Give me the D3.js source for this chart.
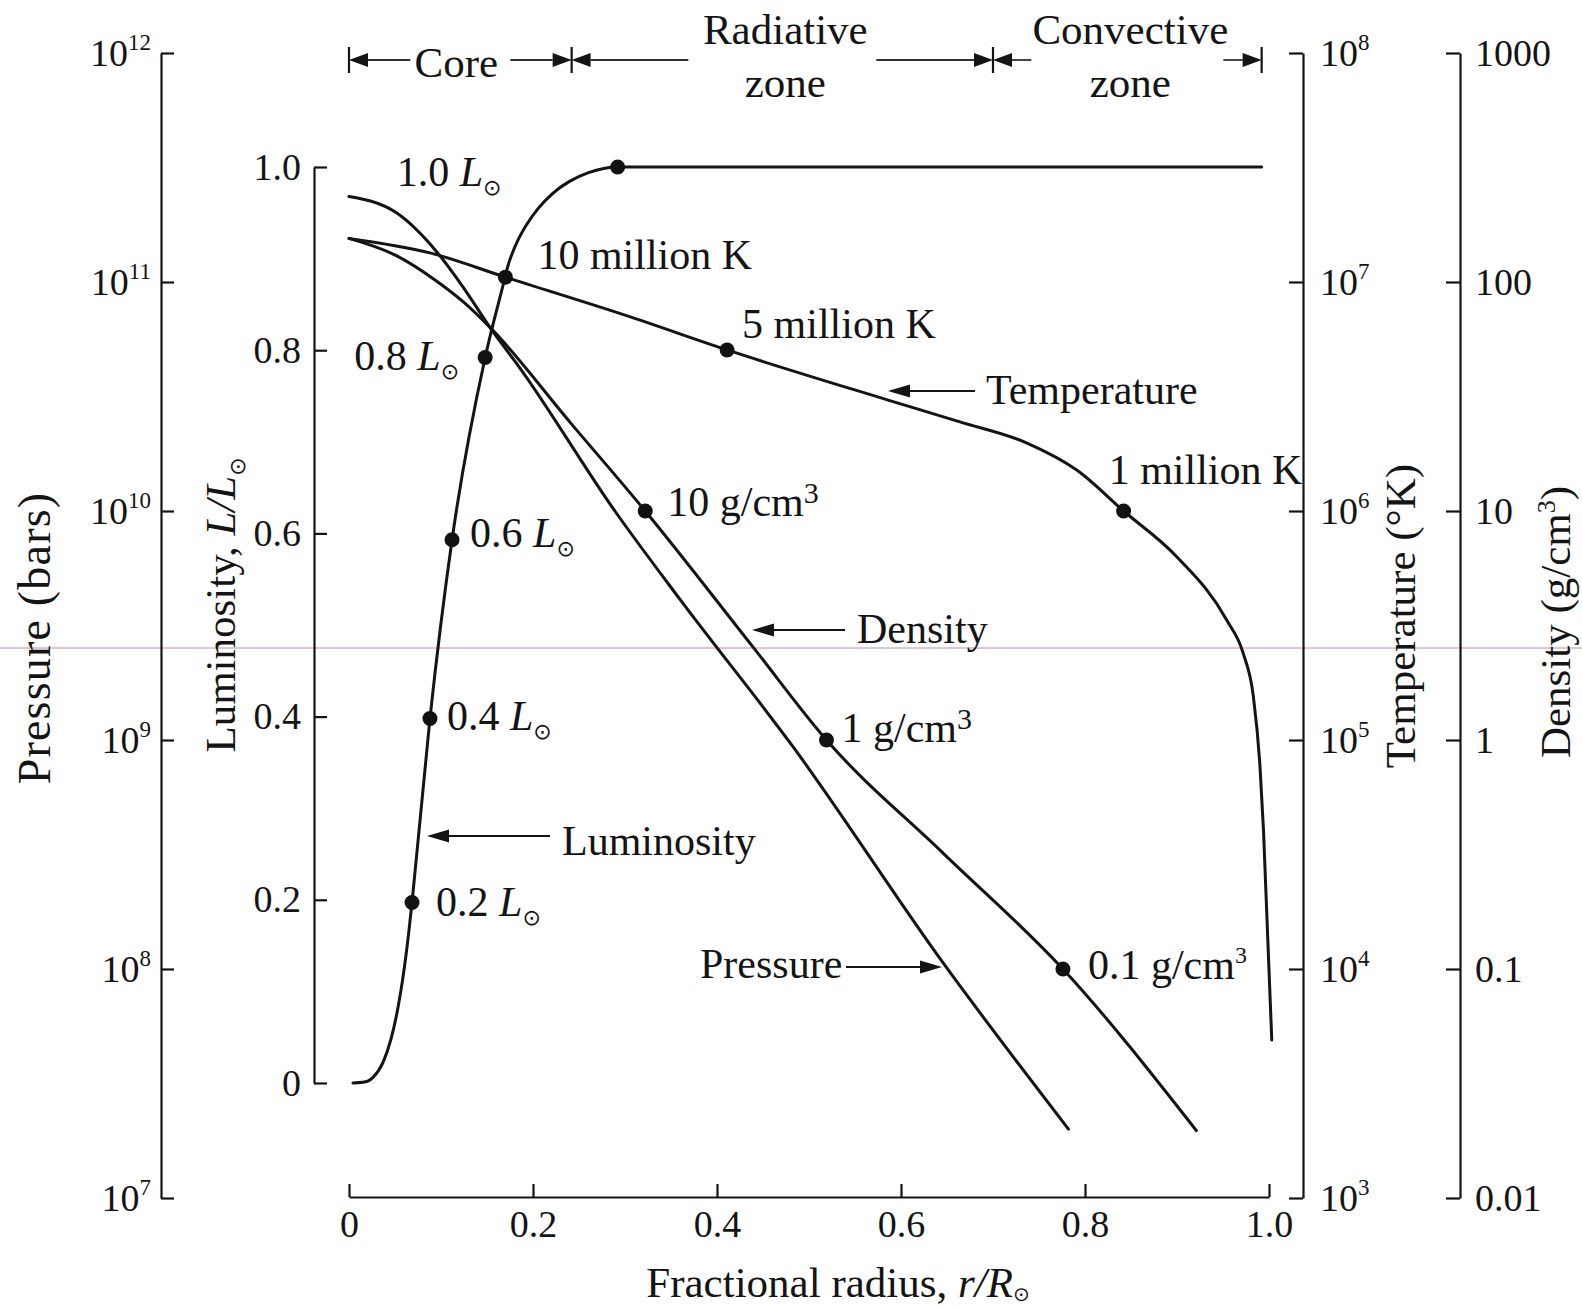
<!DOCTYPE html>
<html>
<head>
<meta charset="utf-8">
<script src="https://cdn.jsdelivr.net/npm/d3@7"></script>
<style>
  body { margin: 0; background: #fff; }
  text { font-family: "Liberation Serif", "Times New Roman", serif; fill: #141414; }
</style>
</head>
<body>
<script>
// ---- data ----
var radiusTicks   = [0, 0.2, 0.4, 0.6, 0.8, 1.0];
var lumTicks      = [0, 0.2, 0.4, 0.6, 0.8, 1.0];
var pressureTicks = [1e7, 1e8, 1e9, 1e10, 1e11, 1e12];   // bars
var tempTicks     = [1e3, 1e4, 1e5, 1e6, 1e7, 1e8];      // K
var densityTicks  = [0.01, 0.1, 1, 10, 100, 1000];       // g/cm3

// [r/R, L/Lsun]
var luminosity = [
  [0.0043, 0], [0.0152, 0.0007], [0.0261, 0.0062], [0.037, 0.0226], [0.0457, 0.0481],
  [0.0533, 0.0827], [0.0587, 0.1156], [0.0641, 0.157], [0.0685, 0.197], [0.088, 0.398],
  [0.112, 0.593], [0.148, 0.792], [0.170, 0.881], [0.1726, 0.8916], [0.1772, 0.9051],
  [0.1839, 0.9207], [0.1933, 0.9375], [0.2057, 0.9548], [0.2215, 0.9713], [0.2392, 0.984],
  [0.2603, 0.9938], [0.292, 1.0], [0.992, 1.0]
];
// [r/R, K]
var temperature = [
  [0, 1.55e7], [0.088, 1.34e7], [0.170, 1.05e7], [0.305, 7.06e6], [0.411, 5.05e6],
  [0.586, 3.05e6], [0.664, 2.45e6], [0.737, 1.98e6], [0.791, 1.51e6], [0.842, 1.0e6],
  [0.900, 6.3e5], [0.954, 3.34e5], [0.972, 2.39e5], [0.983, 1.55e5], [0.990, 7.9e4],
  [0.994, 4.05e4], [1.003, 4.9e3]
];
// [r/R, g/cm3]
var density = [
  [0, 155], [0.052, 130], [0.095, 101], [0.124, 82], [0.153, 63.5], [0.241, 24.2],
  [0.322, 10], [0.439, 2.55], [0.519, 1.0], [0.646, 0.32], [0.776, 0.1], [0.921, 0.0197]
];
// [r/R, bars]
var pressure = [
  [0, 2.36e11], [0.052, 2.0e11], [0.095, 1.36e11], [0.124, 9.5e10], [0.153, 6.35e10],
  [0.186, 4.2e10], [0.289, 1.0e10], [0.360, 4.1e9], [0.483, 9.3e8], [0.646, 1.06e8],
  [0.782, 2.0e7]
];

var lumDots     = [[0.0685, 0.197], [0.088, 0.398], [0.112, 0.593], [0.148, 0.792], [0.292, 1.0]];
var lumDotNames = ["0.2", "0.4", "0.6", "0.8", "1.0"];
var tempDots    = [[0.170, 1.05e7], [0.411, 5.05e6], [0.842, 1.0e6]];
var tempDotNames = ["10 million K", "5 million K", "1 million K"];
var densityDots = [[0.322, 10], [0.519, 1.0], [0.776, 0.1]];
var densityDotNames = ["10 g/cm", "1 g/cm", "0.1 g/cm"];

var zoneNames = [["Core"], ["Radiative", "zone"], ["Convective", "zone"]];
var zoneEdges = [0, 0.242, 0.70, 0.992];

// ---- svg ----
var svg = d3.select("body").append("svg")
  .attr("width", 1582)
  .attr("height", 1307);

svg.append("rect").attr("width", 1582).attr("height", 1307).attr("fill", "#fff");

// faint scan line across the page
svg.append("line")
  .attr("x1", 0).attr("x2", 1582).attr("y1", 648).attr("y2", 648)
  .attr("stroke", "#b07098").attr("stroke-width", 1).attr("opacity", 0.8);

// ---- scales ----
var x = d3.scaleLinear().domain([0, 1]).range([349, 1269]);
var yLum = d3.scaleLinear().domain([0, 1]).range([1083, 167]);
var yP = d3.scaleLog().domain([1e7, 1e12]).range([1198, 53]);
var yT = d3.scaleLog().domain([1e3, 1e8]).range([1198, 53]);
var yD = d3.scaleLog().domain([0.01, 1000]).range([1198, 53]);

function styleAxis(g, size) {
  g.attr("font-family", null).attr("font-size", null);
  g.selectAll("path, line").attr("stroke", "#141414").attr("stroke-width", 2.2);
  g.selectAll("text").style("font-size", size + "px");
}

function powerLabels(g) {
  g.selectAll(".tick text").each(function(d) {
    var t = d3.select(this);
    t.text("10");
    t.append("tspan")
      .attr("dy", -16)
      .style("font-size", "23px")
      .text(Math.round(Math.log10(d)));
  });
}

var oneDecimal = function(d) { return d === 0 ? "0" : d.toFixed(1); };

// pressure axis (far left)
var pAxis = svg.append("g")
  .attr("transform", "translate(161,0)")
  .call(d3.axisLeft(yP).tickValues(pressureTicks).tickSizeInner(-13).tickSizeOuter(0).tickPadding(10));
styleAxis(pAxis, 38);
powerLabels(pAxis);

// luminosity axis
var lAxis = svg.append("g")
  .attr("transform", "translate(314,0)")
  .call(d3.axisLeft(yLum).tickValues(lumTicks).tickSizeInner(-13).tickSizeOuter(0).tickPadding(13)
    .tickFormat(oneDecimal));
styleAxis(lAxis, 38);

// radius axis
var xAxis = svg.append("g")
  .attr("transform", "translate(0,1197)")
  .call(d3.axisBottom(x).tickValues(radiusTicks).tickSizeInner(-13).tickSizeOuter(0).tickPadding(13)
    .tickFormat(oneDecimal));
styleAxis(xAxis, 38);

// temperature axis
var tAxis = svg.append("g")
  .attr("transform", "translate(1303,0)")
  .call(d3.axisRight(yT).tickValues(tempTicks).tickSizeInner(-14).tickSizeOuter(0).tickPadding(17));
styleAxis(tAxis, 38);
powerLabels(tAxis);

// density axis
var dAxis = svg.append("g")
  .attr("transform", "translate(1460,0)")
  .call(d3.axisRight(yD).tickValues(densityTicks).tickSizeInner(-14).tickSizeOuter(0).tickPadding(15)
    .tickFormat(function(d) { return String(d); }));
styleAxis(dAxis, 38);

// ---- axis titles ----
function sunSub(t, size, dy) {
  t.append("tspan")
    .style("font-family", "DejaVu Sans")
    .style("font-size", size + "px")
    .attr("dy", dy)
    .text("\u2299");
}

var xt = svg.append("text")
  .attr("x", 838).attr("y", 1297)
  .attr("text-anchor", "middle")
  .style("font-size", "43px");
xt.append("tspan").text("Fractional radius, ");
xt.append("tspan").style("font-style", "italic").text("r/R");
sunSub(xt, 20, 4);

svg.append("text")
  .attr("transform", "translate(50,638) rotate(-90)")
  .attr("text-anchor", "middle")
  .style("font-size", "46px")
  .style("letter-spacing", "1.2px")
  .text("Pressure (bars)");

var lt = svg.append("text")
  .attr("transform", "translate(235,605) rotate(-90)")
  .attr("text-anchor", "middle")
  .style("font-size", "43px");
lt.append("tspan").text("Luminosity, ");
lt.append("tspan").style("font-style", "italic").text("L/L");
sunSub(lt, 22, 10);

svg.append("text")
  .attr("transform", "translate(1415,616) rotate(-90)")
  .attr("text-anchor", "middle")
  .style("font-size", "43px")
  .text("Temperature (\u00B0K)");

var dt = svg.append("text")
  .attr("transform", "translate(1570,622) rotate(-90)")
  .attr("text-anchor", "middle")
  .style("font-size", "43px");
dt.append("tspan").text("Density (g/cm");
dt.append("tspan").attr("dy", -15).style("font-size", "26px").text("3");
dt.append("tspan").attr("dy", 15).text(")");

// ---- curves ----
function curve(data, yScale) {
  return d3.line()
    .x(function(d) { return x(d[0]); })
    .y(function(d) { return yScale(d[1]); })
    .curve(d3.curveMonotoneX)(data);
}

var curves = svg.append("g")
  .attr("fill", "none")
  .attr("stroke", "#141414")
  .attr("stroke-width", 3)
  .attr("stroke-linecap", "round");

curves.append("path").attr("d", curve(pressure, yP));
curves.append("path").attr("d", curve(density, yD));
curves.append("path").attr("d", curve(temperature, yT));
curves.append("path").attr("d", curve(luminosity, yLum));

function dots(data, yScale) {
  svg.append("g").selectAll("circle")
    .data(data)
    .enter()
    .append("circle")
    .attr("cx", function(d) { return x(d[0]); })
    .attr("cy", function(d) { return yScale(d[1]); })
    .attr("r", 7.5)
    .attr("fill", "#111");
}
dots(lumDots, yLum);
dots(tempDots, yT);
dots(densityDots, yD);

// ---- point labels ----
var lumOffsets = [[24, 13], [17, 12], [18, 7], [-26, 12], [-221, 19]];
lumDots.forEach(function(d, i) {
  var px = x(d[0]), py = yLum(d[1]);
  var t = svg.append("text")
    .attr("x", px + lumOffsets[i][0])
    .attr("y", py + lumOffsets[i][1])
    .attr("text-anchor", i === 3 ? "end" : "start")
    .style("font-size", "42px");
  t.append("tspan").text(lumDotNames[i] + " ");
  t.append("tspan").style("font-style", "italic").text("L");
  sunSub(t, 22, 9);
});

var tempOffsets = [[32, -8], [15, -12], [-15, -27]];
tempDots.forEach(function(d, i) {
  svg.append("text")
    .attr("x", x(d[0]) + tempOffsets[i][0])
    .attr("y", yT(d[1]) + tempOffsets[i][1])
    .style("font-size", "42px")
    .text(tempDotNames[i]);
});

var densOffsets = [[22, 5], [15, 2], [25, 10]];
densityDots.forEach(function(d, i) {
  var t = svg.append("text")
    .attr("x", x(d[0]) + densOffsets[i][0])
    .attr("y", yD(d[1]) + densOffsets[i][1])
    .style("font-size", "42px");
  t.append("tspan").text(densityDotNames[i]);
  t.append("tspan")
    .attr("dy", i === 2 ? -16 : -13)
    .style("font-size", i === 2 ? "24px" : "30px")
    .text("3");
});

// ---- curve name arrows ----
function arrow(x1, x2, y) {
  var dir = x2 > x1 ? 1 : -1, len = 22, hw = 6.5;
  svg.append("line")
    .attr("x1", x1).attr("x2", x2 - dir * len)
    .attr("y1", y).attr("y2", y)
    .attr("stroke", "#141414").attr("stroke-width", 1.8);
  svg.append("path")
    .attr("d", "M" + x2 + "," + y + "L" + (x2 - dir * len) + "," + (y - hw) +
      "L" + (x2 - dir * len) + "," + (y + hw) + "Z")
    .attr("fill", "#141414");
}

function nameLabel(txt, tx, ty) {
  svg.append("text").attr("x", tx).attr("y", ty).style("font-size", "42px").text(txt);
}

arrow(975, 888, 391);
nameLabel("Temperature", 986, 404);
arrow(845, 752, 630);
nameLabel("Density", 857, 643);
arrow(550, 427, 836);
nameLabel("Luminosity", 562, 855);
nameLabel("Pressure", 700, 978);
arrow(846, 942, 967);

// ---- zone markers along the top ----
var zoneY = 60, zoneGaps = [50, 94, 96], headLen = 19, headW = 7;
var zones = svg.append("g");

zoneEdges.forEach(function(e) {
  zones.append("line")
    .attr("x1", x(e)).attr("x2", x(e))
    .attr("y1", zoneY - 13).attr("y2", zoneY + 13)
    .attr("stroke", "#141414").attr("stroke-width", 2.2);
});

zoneNames.forEach(function(names, i) {
  var x0 = x(zoneEdges[i]), x1 = x(zoneEdges[i + 1]), cx = (x0 + x1) / 2;
  var gap = zoneGaps[i];
  zones.append("line")
    .attr("x1", x0 + headLen).attr("x2", cx - gap)
    .attr("y1", zoneY).attr("y2", zoneY)
    .attr("stroke", "#333").attr("stroke-width", 1.8);
  zones.append("line")
    .attr("x1", cx + gap).attr("x2", x1 - headLen)
    .attr("y1", zoneY).attr("y2", zoneY)
    .attr("stroke", "#333").attr("stroke-width", 1.8);
  zones.append("path")
    .attr("d", "M" + x0 + "," + zoneY + "L" + (x0 + headLen) + "," + (zoneY - headW) +
      "L" + (x0 + headLen) + "," + (zoneY + headW) + "Z")
    .attr("fill", "#141414");
  zones.append("path")
    .attr("d", "M" + x1 + "," + zoneY + "L" + (x1 - headLen) + "," + (zoneY - headW) +
      "L" + (x1 - headLen) + "," + (zoneY + headW) + "Z")
    .attr("fill", "#141414");

  if (names.length === 1) {
    zones.append("text").attr("x", cx - 4).attr("y", 77)
      .attr("text-anchor", "middle").style("font-size", "43px").text(names[0]);
  } else {
    zones.append("text").attr("x", cx + 3).attr("y", 44)
      .attr("text-anchor", "middle").style("font-size", "43px").text(names[0]);
    zones.append("text").attr("x", cx + 3).attr("y", 97)
      .attr("text-anchor", "middle").style("font-size", "43px").text(names[1]);
  }
});
</script>
</body>
</html>
